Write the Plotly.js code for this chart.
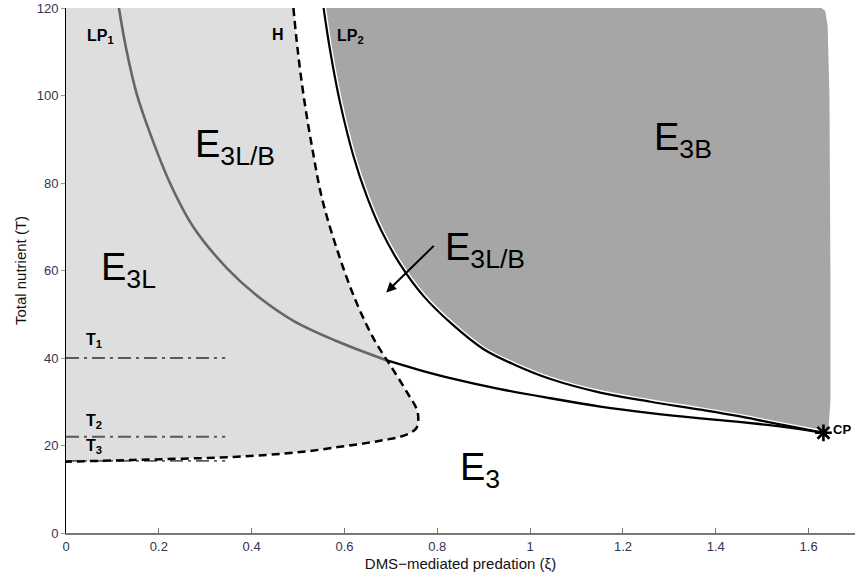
<!DOCTYPE html>
<html>
<head>
<meta charset="utf-8">
<script src="https://cdn.plot.ly/plotly-3.0.1.min.js"></script>
<style>html,body{margin:0;padding:0;background:#fff}#chart{width:855px;height:580px}</style>
</head>
<body>
<div id="chart"></div>
<script>
// Hopf curve H (top -> turning point -> lower branch to axis)
const H_xi = [0.490, 0.499, 0.513, 0.531, 0.552, 0.584, 0.623, 0.664, 0.705, 0.738, 0.756, 0.759, 0.755, 0.742, 0.720, 0.688, 0.649, 0.590, 0.505, 0.360, 0.145, 0.0];
const H_T  = [120, 110.6, 99.2, 87.7, 76.3, 64.8, 53.4, 44.2, 37.3, 31.6, 28.2, 25.9, 24.0, 22.9, 22.0, 21.3, 20.6, 19.7, 18.5, 17.4, 16.7, 16.3];
// LP1 upper (grey) part, down to crossing with H
const LP1a_xi = [0.114, 0.130, 0.152, 0.181, 0.224, 0.274, 0.347, 0.418, 0.490, 0.580, 0.690];
const LP1a_T  = [120, 110.5, 100.5, 91.4, 80.0, 70.0, 60.5, 53.7, 48.5, 44.0, 39.5];
// LP1 lower (black) part, to the cusp CP
const LP1b_xi = [0.690, 0.760, 0.828, 0.930, 1.044, 1.151, 1.260, 1.367, 1.450, 1.511, 1.570, 1.632];
const LP1b_T  = [39.5, 37.3, 35.4, 33.0, 30.8, 28.9, 27.4, 26.2, 25.4, 24.7, 23.9, 22.9];
// LP2
const LP2_xi = [0.555, 0.570, 0.590, 0.620, 0.648, 0.680, 0.720, 0.770, 0.830, 0.900, 0.970, 1.044, 1.151, 1.260, 1.367, 1.450, 1.511, 1.570, 1.632];
const LP2_T  = [120, 109.7, 98.6, 85.9, 77.0, 69.0, 61.4, 54.2, 47.9, 42.0, 38.3, 35.2, 32.1, 30.0, 28.2, 26.7, 25.4, 24.2, 22.9];
// right edge of the E3B region (from CP up to top)
const Edge_xi = [1.632, 1.643, 1.647, 1.647, 1.645, 1.641, 1.636, 1.628];
const Edge_T  = [22.9, 24, 30, 60, 100, 116, 119.3, 120];
// cusp point
const CP_xi = [1.632];
const CP_T  = [22.9];
// horizontal reference levels
const T_levels = [40, 22, 16.5];
const T_names = ['T<sub>1</sub>', 'T<sub>2</sub>', 'T<sub>3</sub>'];
const T_xmax = 0.343;

const lightX = [0].concat(H_xi, [0]);
const lightT = [120].concat(H_T, [120]);
const darkX = LP2_xi.concat(Edge_xi.slice(1), [LP2_xi[0]]);
const darkT = LP2_T.concat(Edge_T.slice(1), [LP2_T[0]]);

const traces = [
  {x: lightX, y: lightT, mode: 'lines', fill: 'toself', fillcolor: '#dedede', line: {width: 0, color: '#dedede'}, hoverinfo: 'skip'},
  {x: darkX, y: darkT, mode: 'lines', fill: 'toself', fillcolor: '#a6a6a6', line: {width: 0, color: '#a6a6a6'}, hoverinfo: 'skip'},
  {x: LP2_xi, y: LP2_T, mode: 'lines', line: {color: '#ffffff', width: 5, shape: 'spline'}, hoverinfo: 'skip'}
];
T_levels.forEach(t => traces.push({x: [0, T_xmax], y: [t, t], mode: 'lines', line: {color: '#5a5a5a', width: 1.8, dash: '13px,5px,3px,5px'}, hoverinfo: 'skip'}));
traces.push(
  {x: LP1a_xi, y: LP1a_T, mode: 'lines', line: {color: '#666666', width: 2.6, shape: 'spline'}},
  {x: LP1b_xi, y: LP1b_T, mode: 'lines', line: {color: '#000000', width: 2.3, shape: 'spline'}},
  {x: LP2_xi, y: LP2_T, mode: 'lines', line: {color: '#000000', width: 2.2, shape: 'spline'}},
  {x: H_xi, y: H_T, mode: 'lines', line: {color: '#000000', width: 2.5, dash: '8px,5px', shape: 'spline'}},
  {x: CP_xi, y: CP_T, mode: 'markers', marker: {symbol: 'asterisk-open', size: 14, color: '#000', line: {color: '#000', width: 2.6}}}
);

const big = {family: 'Liberation Sans, Arial, sans-serif', size: 38, color: '#000'};
const bold = {family: 'Liberation Sans, Arial, sans-serif', size: 16, color: '#000', weight: 'bold'};
const ann = [
  {x: 0.072, y: 60.2, text: 'E<sub>3L</sub>', font: big},
  {x: 0.274, y: 88.2, text: 'E<sub>3L/B</sub>', font: big},
  {x: 1.262, y: 89.8, text: 'E<sub>3B</sub>', font: big},
  {x: 0.812, y: 64.8, text: 'E<sub>3L/B</sub>', font: big},
  {x: 0.845, y: 14.4, text: 'E<sub>3</sub>', font: big},
  {x: 0.041, y: 113.6, text: '<b>LP<sub>1</sub></b>', font: bold},
  {x: 0.439, y: 113.9, text: '<b>H</b>', font: bold},
  {x: 0.580, y: 113.6, text: '<b>LP<sub>2</sub></b>', font: bold},
  {x: 1.648, y: 23.6, text: '<b>CP</b>', font: {family: 'Liberation Sans, Arial, sans-serif', size: 13, color: '#000'}}
].map(a => Object.assign({xref: 'x', yref: 'y', xanchor: 'left', yanchor: 'middle', showarrow: false}, a));
const tYs = [44, 25.4, 19.7];
T_names.forEach((n, i) => ann.push({x: 0.038, y: tYs[i], xref: 'x', yref: 'y', xanchor: 'left', yanchor: 'middle', showarrow: false, text: '<b>' + n + '</b>', font: bold}));
ann.push({x: 0.690, y: 55.0, xref: 'x', yref: 'y', ax: 49, ay: -48, text: '', showarrow: true, arrowhead: 2, arrowsize: 1, arrowwidth: 2, arrowcolor: '#000'});

const tickFont = {family: 'Liberation Sans, Arial, sans-serif', size: 13, color: '#333355'};
const layout = {
  width: 855, height: 580,
  margin: {l: 66, r: 0, t: 8, b: 47},
  paper_bgcolor: '#fff', plot_bgcolor: '#fff',
  showlegend: false,
  xaxis: {range: [0, 1.7], tickvals: [0, 0.2, 0.4, 0.6, 0.8, 1, 1.2, 1.4, 1.6], ticktext: ['0', '0.2', '0.4', '0.6', '0.8', '1', '1.2', '1.4', '1.6'],
    showgrid: false, zeroline: false, showline: true, linecolor: '#777', linewidth: 2, ticks: 'inside', ticklen: 5, tickcolor: '#777', tickfont: tickFont,
    title: {text: 'DMS\u2212mediated predation (\u03be)', font: {family: 'Liberation Sans, Arial, sans-serif', size: 15, color: '#111'}, standoff: 6}},
  yaxis: {range: [0, 120], tickvals: [0, 20, 40, 60, 80, 100, 120],
    showgrid: false, zeroline: false, showline: true, linecolor: '#000', linewidth: 1, ticks: 'outside', ticklen: 4, tickcolor: '#999', tickfont: tickFont,
    title: {text: 'Total nutrient (T)', font: {family: 'Liberation Sans, Arial, sans-serif', size: 15, color: '#111'}, standoff: 6}},
  annotations: ann
};
Plotly.newPlot('chart', traces, layout, {displayModeBar: false, staticPlot: true});
</script>
</body>
</html>
